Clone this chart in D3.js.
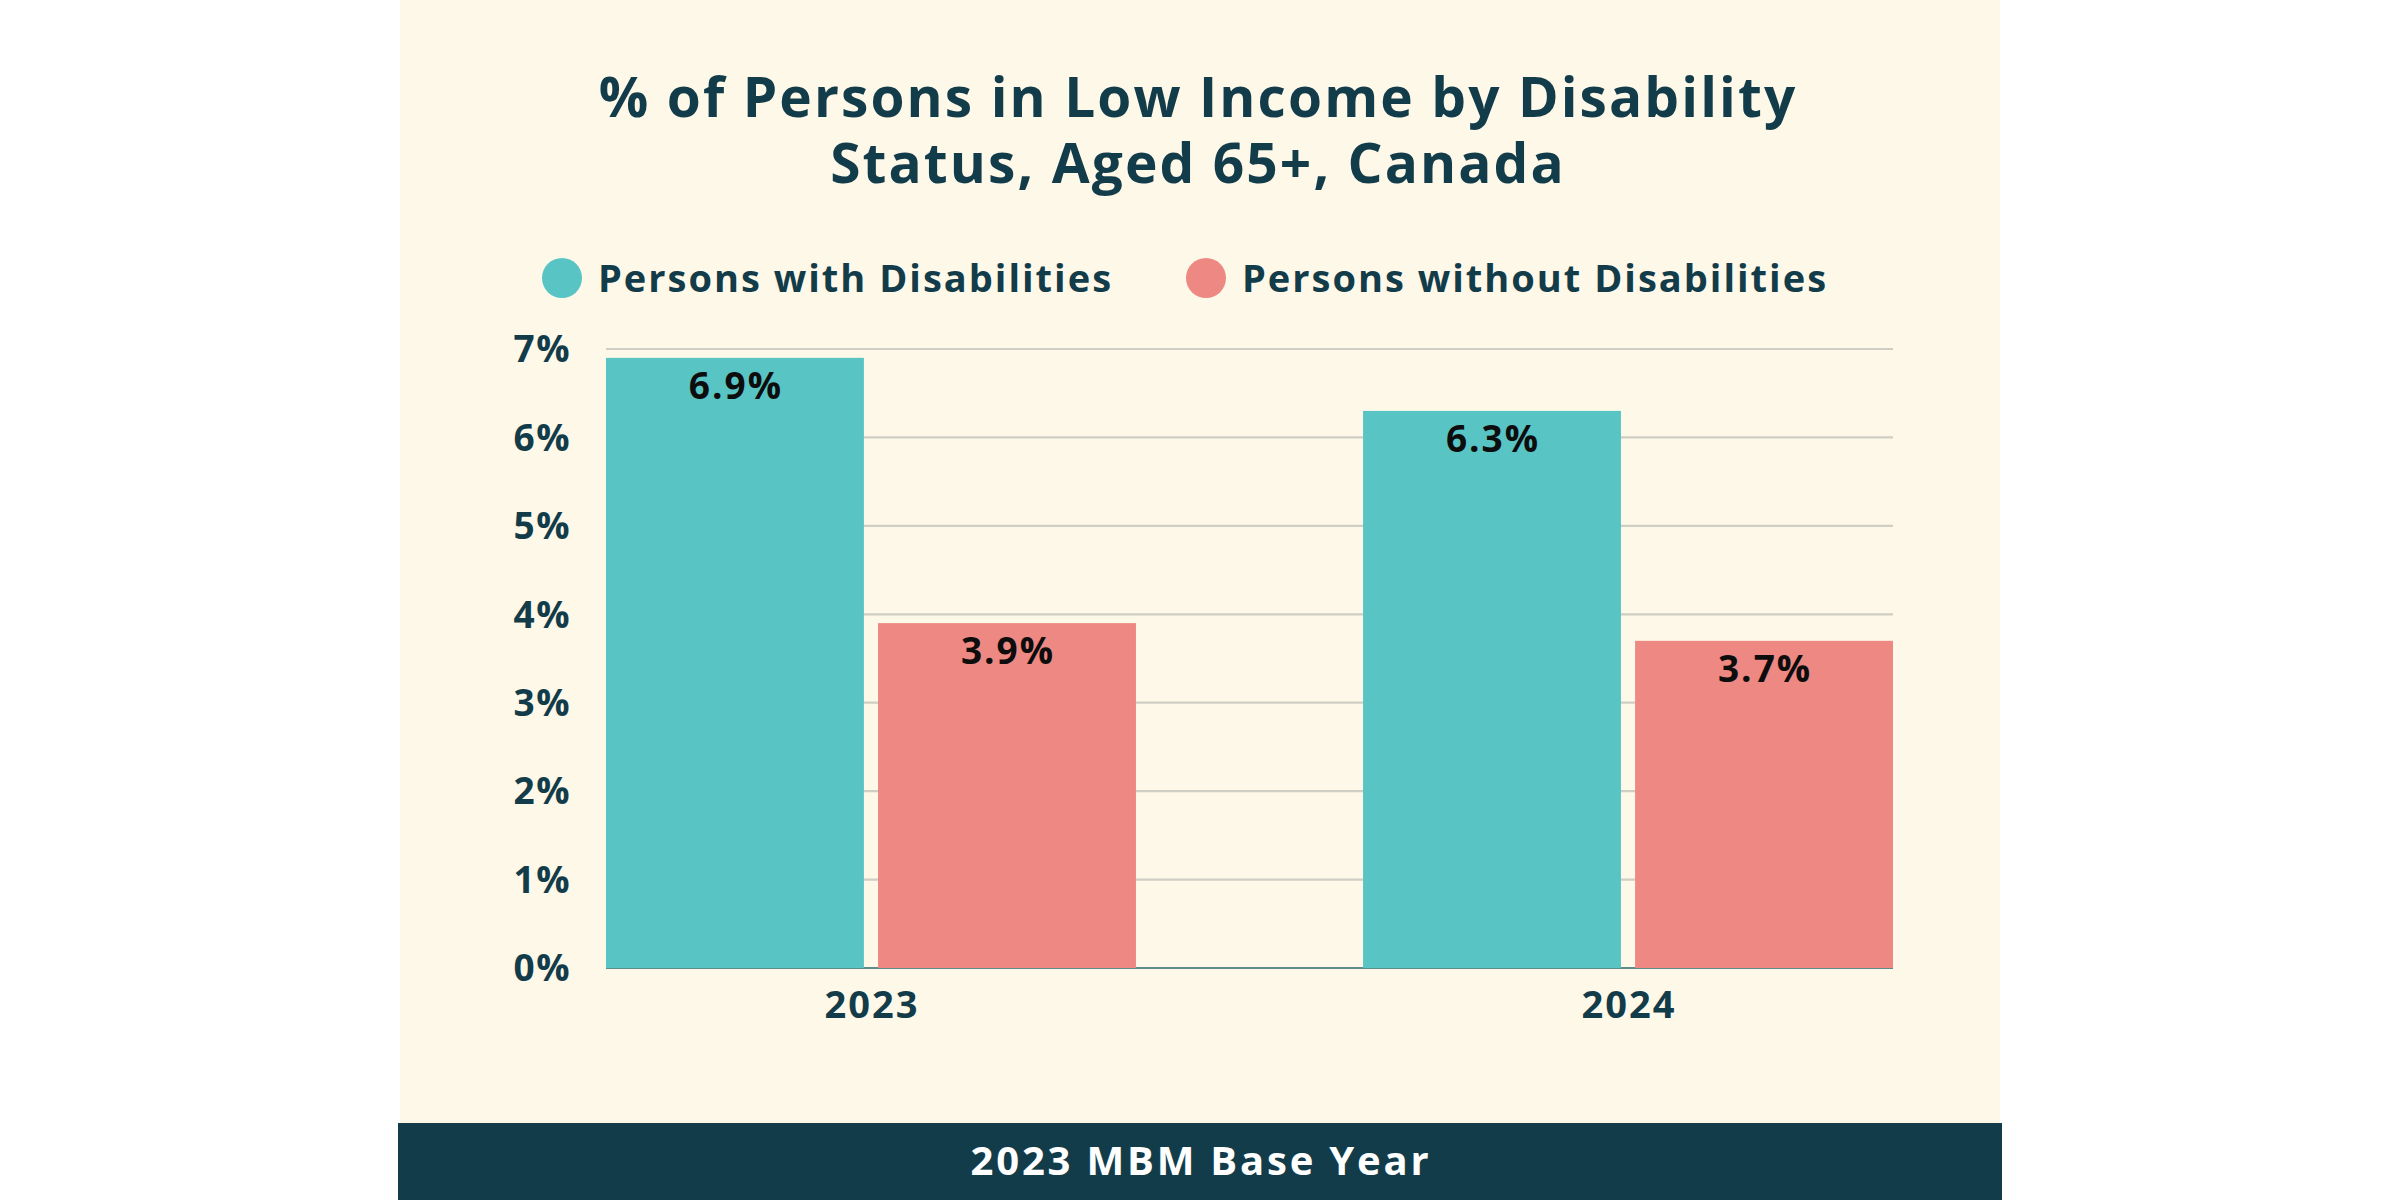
<!DOCTYPE html>
<html>
<head>
<meta charset="utf-8">
<script src="https://cdn.jsdelivr.net/npm/d3@7/dist/d3.min.js"></script>
<style>
  html, body { margin: 0; padding: 0; background: #ffffff; }
  svg { display: block; }
  text { font-family: "Open Sans", "Noto Sans", sans-serif; font-weight: 700; }
</style>
</head>
<body>
<svg id="chart" width="2400" height="1200"></svg>
<script>
// ---- data ----
const years = ["2023", "2024"];
const seriesNames = ["Persons with Disabilities", "Persons without Disabilities"];
const withDisabilities = [6.9, 6.3];
const withoutDisabilities = [3.9, 3.7];
const yTicks = [0, 1, 2, 3, 4, 5, 6, 7];
const titleLines = ["% of Persons in Low Income by Disability", "Status, Aged 65+, Canada"];
const footerText = "2023 MBM Base Year";

// ---- style ----
const colors = ["#58C4C4", "#ED8882"];
const dark = "#133C4A";
const cream = "#FEF8E9";

const svg = d3.select("#chart");

// panel
svg.append("rect").attr("x", 400).attr("y", 0).attr("width", 1600).attr("height", 1123).attr("fill", cream);
svg.append("rect").attr("x", 398).attr("y", 1123).attr("width", 1604).attr("height", 77).attr("fill", dark);

// title
svg.append("text").attr("x", 1198).attr("y", 117).attr("text-anchor", "middle")
  .attr("font-size", 55).attr("letter-spacing", 2.1).attr("fill", dark).text(titleLines[0]);
svg.append("text").attr("x", 1198).attr("y", 183).attr("text-anchor", "middle")
  .attr("font-size", 55).attr("letter-spacing", 2.1).attr("fill", dark).text(titleLines[1]);

// legend
const legendX = [562, 1206];
seriesNames.forEach((name, i) => {
  const g = svg.append("g");
  g.append("circle").attr("cx", legendX[i]).attr("cy", 278).attr("r", 20).attr("fill", colors[i]);
  g.append("text").attr("x", legendX[i] + 36).attr("y", 292).attr("font-size", 38)
    .attr("letter-spacing", 2).attr("fill", dark).text(name);
});

// scales
const plot = { left: 606, right: 1893, top: 349, bottom: 968 };
const y = d3.scaleLinear().domain([0, 7]).range([plot.bottom, plot.top]);
const x0 = d3.scaleBand().domain(years).range([plot.left, plot.right]).paddingInner(0.30).paddingOuter(0);
const x1 = d3.scaleBand().domain(seriesNames).range([0, x0.bandwidth()]).paddingInner(0.052).paddingOuter(0);

// gridlines
svg.append("g").selectAll("line").data(yTicks.filter(t => t > 0)).join("line")
  .attr("x1", plot.left).attr("x2", plot.right)
  .attr("y1", d => y(d)).attr("y2", d => y(d))
  .attr("stroke", "#CFCEC4").attr("stroke-width", 2.2);

// baseline
svg.append("line").attr("x1", plot.left).attr("x2", plot.right)
  .attr("y1", y(0)).attr("y2", y(0)).attr("stroke", "#5E8C8C").attr("stroke-width", 2);

// y tick labels
svg.append("g").selectAll("text").data(yTicks).join("text")
  .attr("x", 571).attr("y", d => y(d)).attr("dy", "0.36em")
  .attr("text-anchor", "end").attr("font-size", 37).attr("letter-spacing", 1.5).attr("fill", dark)
  .text(d => d + "%");

// bars
const rows = years.map((yr, i) => ({ year: yr, values: [withDisabilities[i], withoutDisabilities[i]] }));
const groups = svg.append("g").selectAll("g").data(rows).join("g")
  .attr("transform", d => `translate(${x0(d.year)},0)`);

groups.selectAll("rect").data(d => d.values.map((v, j) => ({ key: seriesNames[j], v, j }))).join("rect")
  .attr("x", d => x1(d.key)).attr("width", x1.bandwidth())
  .attr("y", d => y(d.v)).attr("height", d => y(0) - y(d.v))
  .attr("fill", d => colors[d.j]);

groups.selectAll("text.val").data(d => d.values.map((v, j) => ({ key: seriesNames[j], v, j }))).join("text")
  .attr("class", "val")
  .attr("x", d => x1(d.key) + x1.bandwidth() / 2 + 1).attr("y", d => y(d.v) + 41)
  .attr("text-anchor", "middle").attr("font-size", 37).attr("letter-spacing", 2).attr("fill", "#0d0d0d")
  .text(d => d.v.toFixed(1) + "%");

// x labels
svg.append("g").selectAll("text").data(years).join("text")
  .attr("x", d => x0(d) + x0.bandwidth() / 2 + 1).attr("y", 1018)
  .attr("text-anchor", "middle").attr("font-size", 38).attr("letter-spacing", 2).attr("fill", dark)
  .text(d => d);

// footer
svg.append("text").attr("x", 1201).attr("y", 1175).attr("text-anchor", "middle")
  .attr("font-size", 40).attr("letter-spacing", 2.8).attr("fill", "#ffffff").text(footerText);
</script>
</body>
</html>
